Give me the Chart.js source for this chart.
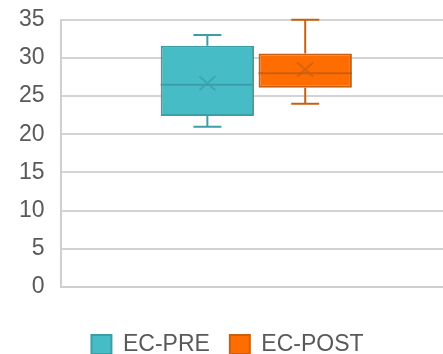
<!DOCTYPE html>
<html>
<head>
<meta charset="utf-8">
<script src="https://cdn.jsdelivr.net/npm/chart.js@4"></script>
<style>
  html, body { margin: 0; padding: 0; background: #fff; overflow: hidden; }
  #wrap { position: relative; top: -10px; width: 452px; height: 376px; }
</style>
</head>
<body>
<div id="wrap"><canvas id="c"></canvas></div>
<script>
// box plot values
const categories = [''];
const seriesNames = ['EC-PRE', 'EC-POST'];
const minVals = [21, 24];
const q1Vals = [22.4, 26.1];
const medianVals = [26.5, 28.0];
const q3Vals = [31.6, 30.6];
const maxVals = [33, 35];
const meanVals = [26.7, 28.5];
const yTicks = [0, 5, 10, 15, 20, 25, 30, 35];

const fills = ['#46BDC6', '#FF6D01'];
const edges = ['#3C9FA7', '#C9600F'];

// whiskers, median line and mean marker, drawn on top of the floating bars
const boxExtras = {
  id: 'boxExtras',
  afterDatasetsDraw(chart) {
    const ctx = chart.ctx;
    const y = chart.scales.y;
    chart.data.datasets.forEach((ds, i) => {
      const bar = chart.getDatasetMeta(i).data[0];
      if (!bar) return;
      const cx = bar.x;
      const half = bar.width / 2;
      const cap = 14;
      const yMin = y.getPixelForValue(minVals[i]);
      const yMax = y.getPixelForValue(maxVals[i]);
      const yQ1 = y.getPixelForValue(q1Vals[i]);
      const yQ3 = y.getPixelForValue(q3Vals[i]);
      const yMed = y.getPixelForValue(medianVals[i]);
      const yMean = y.getPixelForValue(meanVals[i]);
      ctx.save();
      ctx.strokeStyle = edges[i];
      ctx.lineWidth = 2;
      ctx.beginPath();
      ctx.moveTo(cx, yQ3); ctx.lineTo(cx, yMax);
      ctx.moveTo(cx - cap, yMax); ctx.lineTo(cx + cap, yMax);
      ctx.moveTo(cx, yQ1); ctx.lineTo(cx, yMin);
      ctx.moveTo(cx - cap, yMin); ctx.lineTo(cx + cap, yMin);
      ctx.stroke();
      ctx.beginPath();
      ctx.moveTo(cx - half, yMed); ctx.lineTo(cx + half, yMed);
      ctx.stroke();
      // mean "x"
      ctx.globalAlpha = 0.75;
      ctx.beginPath();
      ctx.moveTo(cx - 8, yMean - 7); ctx.lineTo(cx + 8, yMean + 7);
      ctx.moveTo(cx - 8, yMean + 7); ctx.lineTo(cx + 8, yMean - 7);
      ctx.stroke();
      ctx.restore();
    });
  }
};

new Chart(document.getElementById('c'), {
  type: 'bar',
  data: {
    labels: categories,
    datasets: seriesNames.map((name, i) => ({
      label: name,
      data: [[q1Vals[i], q3Vals[i]]],
      backgroundColor: fills[i],
      borderColor: edges[i],
      borderWidth: 2,
      borderSkipped: false,
      categoryPercentage: 0.5,
      barPercentage: 0.954
    }))
  },
  options: {
    responsive: true,
    maintainAspectRatio: false,
    animation: false,
    layout: { padding: { left: 3, top: 0, right: 0, bottom: 0 } },
    plugins: {
      tooltip: { enabled: false },
      legend: {
        position: 'bottom',
        labels: {
          boxWidth: 20,
          boxHeight: 19,
          padding: 20,
          color: '#595959',
          font: { family: "'Liberation Sans', Arial, sans-serif", size: 23 }
        }
      }
    },
    scales: {
      x: {
        ticks: { display: false },
        grid: { display: false, drawTicks: false },
        border: { display: true, color: '#CFCFCF', width: 2 },
        afterFit: (axis) => { axis.height = 26; }
      },
      y: {
        min: 0,
        max: 35,
        afterBuildTicks: (axis) => { axis.ticks = yTicks.map(v => ({ value: v })); },
        ticks: {
          padding: 16,
          color: '#595959',
          font: { family: "'Liberation Sans', Arial, sans-serif", size: 23 }
        },
        grid: { color: '#D3D3D3', lineWidth: 2, drawTicks: false },
        border: { display: true, color: '#CFCFCF', width: 2 }
      }
    }
  },
  plugins: [boxExtras]
});
</script>
</body>
</html>
